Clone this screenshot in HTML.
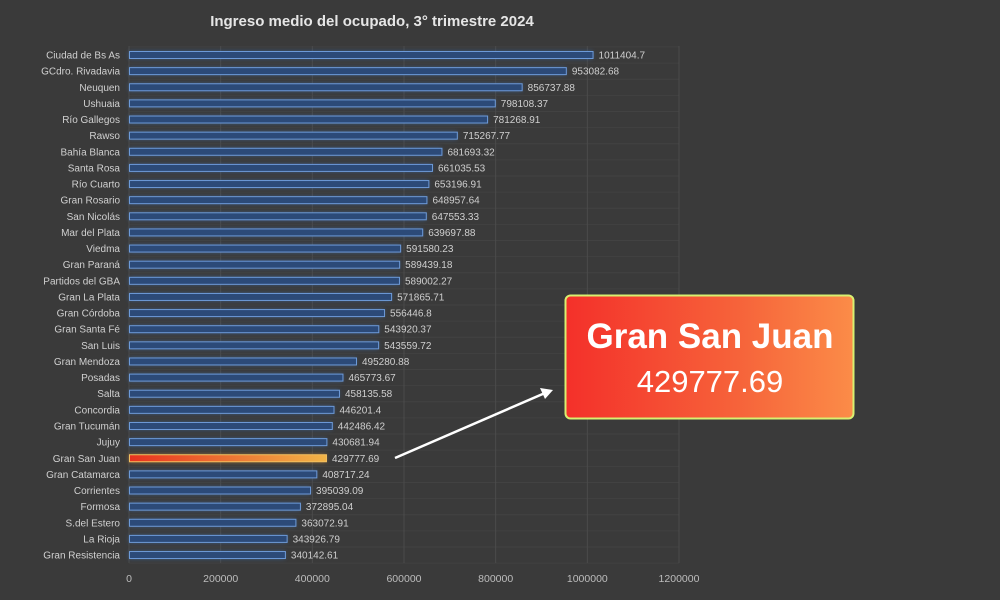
<!DOCTYPE html>
<html><head><meta charset="utf-8">
<style>
html,body{margin:0;padding:0;background:#3a3a3a;width:1000px;height:600px;overflow:hidden}
svg{display:block}
</style></head><body>
<svg id="s" width="1000" height="600" xmlns="http://www.w3.org/2000/svg" font-family="Liberation Sans, sans-serif">
<defs>
<linearGradient id="hg" x1="0" x2="1"><stop offset="0" stop-color="#e8321f"/><stop offset="1" stop-color="#f2b447"/></linearGradient>
<linearGradient id="bg" x1="0" x2="1"><stop offset="0" stop-color="#f4302a"/><stop offset="0.6" stop-color="#f6633a"/><stop offset="1" stop-color="#fb8c48"/></linearGradient>
<filter id="gl" x="-5%" y="-100%" width="110%" height="300%"><feGaussianBlur stdDeviation="2"/></filter>
</defs>
<rect width="1000" height="600" fill="#3a3a3a"/>
<text x="372" y="26" fill="#e6e6e6" font-size="15" font-weight="bold" text-anchor="middle">Ingreso medio del ocupado, 3° trimestre 2024</text>
<g id="grid"></g>
<g id="bars"></g>
<rect x="565.5" y="295.5" width="288" height="123" rx="5" fill="url(#bg)" stroke="#d8f070" stroke-width="2"/>
<text x="710" y="348" fill="#fff" font-size="35" font-weight="bold" text-anchor="middle">Gran San Juan</text>
<text x="710" y="392" fill="#fff" font-size="31" text-anchor="middle">429777.69</text>
<line x1="395" y1="458" x2="545" y2="393" stroke="#fff" stroke-width="2.5"/>
<polygon points="553,390 540,388 545,399" fill="#fff"/>
</svg>
<script>
var d=[["Ciudad de Bs As",1011404.7,"1011404.7"],["GCdro. Rivadavia",953082.68,"953082.68"],["Neuquen",856737.88,"856737.88"],["Ushuaia",798108.37,"798108.37"],["Río Gallegos",781268.91,"781268.91"],["Rawso",715267.77,"715267.77"],["Bahía Blanca",681693.32,"681693.32"],["Santa Rosa",661035.53,"661035.53"],["Río Cuarto",653196.91,"653196.91"],["Gran Rosario",648957.64,"648957.64"],["San Nicolás",647553.33,"647553.33"],["Mar del Plata",639697.88,"639697.88"],["Viedma",591580.23,"591580.23"],["Gran Paraná",589439.18,"589439.18"],["Partidos del GBA",589002.27,"589002.27"],["Gran La Plata",571865.71,"571865.71"],["Gran Córdoba",556446.8,"556446.8"],["Gran Santa Fé",543920.37,"543920.37"],["San Luis",543559.72,"543559.72"],["Gran Mendoza",495280.88,"495280.88"],["Posadas",465773.67,"465773.67"],["Salta",458135.58,"458135.58"],["Concordia",446201.4,"446201.4"],["Gran Tucumán",442486.42,"442486.42"],["Jujuy",430681.94,"430681.94"],["Gran San Juan",429777.69,"429777.69"],["Gran Catamarca",408717.24,"408717.24"],["Corrientes",395039.09,"395039.09"],["Formosa",372895.04,"372895.04"],["S.del Estero",363072.91,"363072.91"],["La Rioja",343926.79,"343926.79"],["Gran Resistencia",340142.61,"340142.61"]];
var x0=129,k=550/1200000,pTop=46,pBot=563,st=16.13,y0=55;
var g=document.getElementById("grid"),b=document.getElementById("bars"),h="";
for(var i=0;i<=32;i++){var y=y0-st/2+i*st;h+='<line x1="'+x0+'" y1="'+y+'" x2="'+(x0+550)+'" y2="'+y+'" stroke="#424242" stroke-width="1"/>';}
for(var i=0;i<=6;i++){var x=x0+i*200000*k;h+='<line x1="'+x+'" y1="'+pTop+'" x2="'+x+'" y2="'+pBot+'" stroke="#4b4b4b" stroke-width="1"/>';
h+='<text x="'+x+'" y="582" fill="#bdbdbd" font-size="10.5" text-anchor="middle">'+(i*200000)+'</text>';}
g.innerHTML=h;h="";
d.forEach(function(r,i){var y=y0+i*st,w=r[1]*k;
h+='<text x="120" y="'+(y+3.5)+'" fill="#d0d0d0" font-size="10" text-anchor="end">'+r[0]+'</text>';
if(r[0]=="Gran San Juan"){h+='<rect x="'+x0+'" y="'+(y-4)+'" width="'+w+'" height="8" fill="#e89a3a" opacity="0.5" filter="url(#gl)"/><rect x="'+(x0+0.5)+'" y="'+(y-3.5)+'" width="'+w+'" height="7" fill="url(#hg)" stroke="#f3c060" stroke-width="1"/>';}
else{h+='<rect x="'+x0+'" y="'+(y-4)+'" width="'+w+'" height="8" fill="#3d6aa8" opacity="0.6" filter="url(#gl)"/><rect x="'+(x0+0.5)+'" y="'+(y-3.5)+'" width="'+w+'" height="7" fill="#2c4a78" stroke="#6d9ad8" stroke-width="1"/>';}
h+='<text x="'+(x0+w+6)+'" y="'+(y+3.5)+'" fill="#cfcfcf" font-size="10">'+r[2]+'</text>';});
b.innerHTML=h;
</script>
</body></html>
